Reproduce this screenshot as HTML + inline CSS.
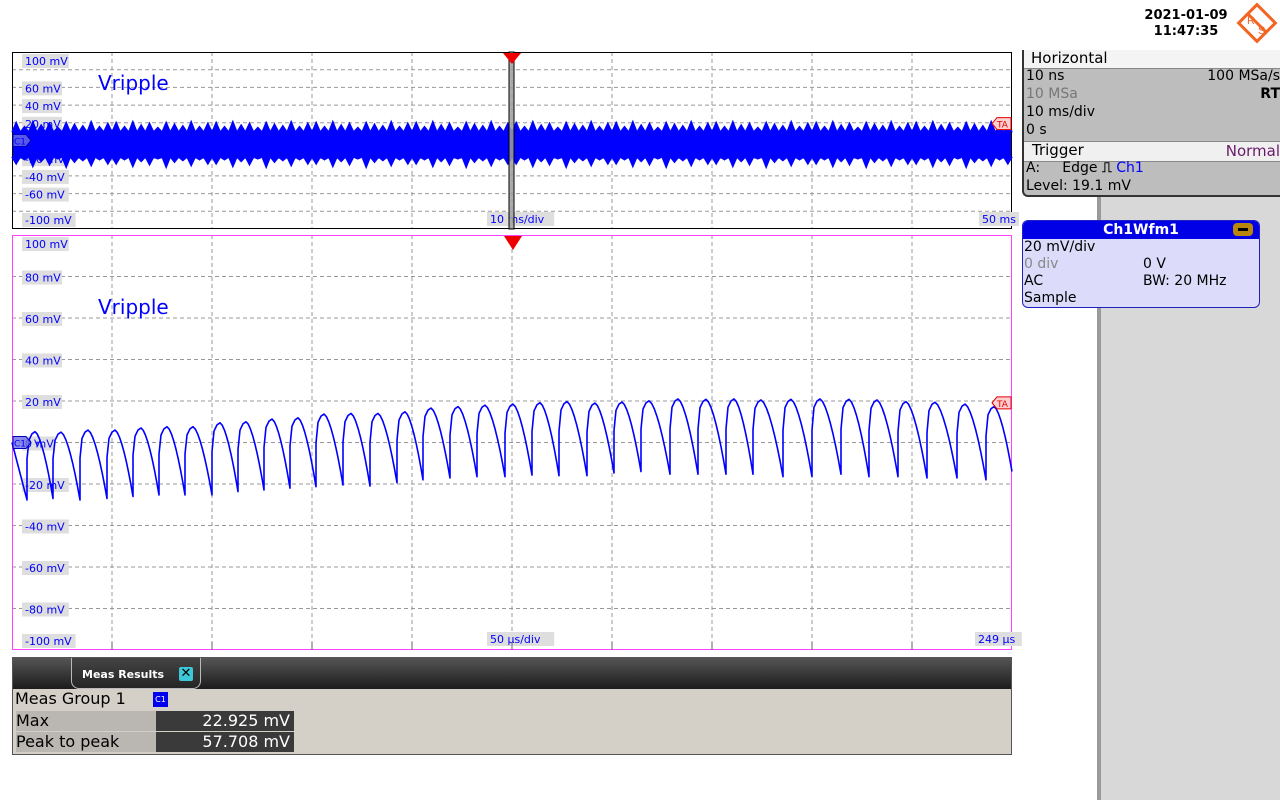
<!DOCTYPE html>
<html><head><meta charset="utf-8">
<style>
body{margin:0;width:1280px;height:800px;background:#fff;position:relative;overflow:hidden;font-family:"DejaVu Sans","Liberation Sans",sans-serif;}
.abs{position:absolute;}
.row{position:absolute;left:2px;font-size:14px;color:#000;}
</style></head><body>
<div class="abs" style="left:1100px;top:195px;width:180px;height:605px;background:#d8d8d8;"></div>
<div class="abs" style="left:1097px;top:195px;width:4px;height:605px;background:#9a9a9a;"></div>

<div class="abs" style="left:1140px;top:8px;width:92px;text-align:center;font-size:13px;font-weight:bold;line-height:16px;">2021-01-09<br>11:47:35</div>
<svg class="abs" style="left:1236px;top:2px" width="42" height="42"><rect x="8" y="8" width="26" height="26" transform="rotate(45 21 21)" fill="none" stroke="#f26522" stroke-width="3"/><line x1="12" y1="12" x2="30" y2="30" stroke="#f26522" stroke-width="3"/><text x="11" y="22" fill="#f26522" font-size="11" font-family="Liberation Sans">R</text><text x="22" y="32" fill="#f26522" font-size="11" font-family="Liberation Sans">S</text></svg>

<div class="abs" style="left:1022px;top:50px;width:262px;height:145px;background:#bdbdbd;border:2px solid #333;border-top:none;border-right:none;border-radius:0 0 0 6px;">
 <div class="abs" style="left:0;top:0;width:262px;height:18px;background:#f4f4f4;border-bottom:1px solid #888"></div>
 <div class="row" style="left:7px;top:-1px;font-size:15px;">Horizontal</div>
 <div class="row" style="top:18px">10 ns</div>
 <div class="row" style="top:18px;left:auto;right:6px">100 MSa/s</div>
 <div class="row" style="top:36px;color:#777">10 MSa</div>
 <div class="row" style="top:36px;left:auto;right:6px;font-weight:bold">RT</div>
 <div class="row" style="top:54px">10 ms/div</div>
 <div class="row" style="top:72px">0 s</div>
 <div class="abs" style="left:0;top:91px;width:262px;height:19px;background:#f0f0f0;border-top:1px solid #888;border-bottom:1px solid #888"></div>
 <div class="row" style="left:8px;top:91px;font-size:15px;">Trigger</div>
 <div class="row" style="top:92px;left:auto;right:6px;color:#6a1a6a;font-size:15px">Normal</div>
 <div class="row" style="top:110px">A:&nbsp;&nbsp;&nbsp;&nbsp;&nbsp;Edge <span style="font-weight:bold">⎍</span> <span style="color:#0000ff">Ch1</span></div>
 <div class="row" style="top:128px">Level: 19.1 mV</div>
</div>

<div class="abs" style="left:1022px;top:220px;width:236px;height:86px;background:#dcdcfa;border:1px solid #2020c0;border-radius:6px;overflow:hidden;">
 <div class="abs" style="left:0;top:0;width:236px;height:18px;background:#0000e6;color:#fff;text-align:center;font-size:14px;font-weight:bold;line-height:18px">Ch1Wfm1</div>
 <div class="abs" style="left:210px;top:2px;width:20px;height:13px;background:#b8860b;border-radius:4px;"><div style="margin:5px 5px;width:10px;height:3px;background:#000"></div></div>
 <div class="row" style="top:18px;left:1px">20 mV/div</div>
 <div class="row" style="top:35px;left:1px;color:#888">0 div</div>
 <div class="row" style="top:35px;left:120px">0 V</div>
 <div class="row" style="top:52px;left:1px">AC</div>
 <div class="row" style="top:52px;left:120px">BW: 20 MHz</div>
 <div class="row" style="top:69px;left:1px">Sample</div>
</div>

<svg class="abs" style="left:0;top:0" width="1100" height="800" id="scope"></svg>

<div class="abs" style="left:12px;top:657px;width:1000px;height:98px;background:#d4d0c8;border:1px solid #555;box-sizing:border-box;">
 <div class="abs" style="left:0;top:0;width:998px;height:31px;background:linear-gradient(#555,#1c1c1c)"></div>
 <div class="abs" style="left:58px;top:0;width:128px;height:30px;background:linear-gradient(#444,#252525);border:1px solid #bbb;border-top:none;border-radius:0 0 8px 8px;"></div>
 <div class="abs" style="left:69px;top:10px;color:#fff;font-size:11px;font-weight:bold">Meas Results</div>
 <div class="abs" style="left:166px;top:9px;width:14px;height:14px;background:#3cc8d8;color:#000;font-size:13px;font-weight:bold;line-height:14px;text-align:center;border-radius:2px">✕</div>
 <div class="abs" style="left:2px;top:31px;font-size:16px">Meas Group 1</div>
 <div class="abs" style="left:140px;top:34px;width:15px;height:15px;background:#0000f0;color:#fff;font-size:8px;text-align:center;line-height:15px">C1</div>
 <div class="abs" style="left:3px;top:53px;width:140px;height:20px;background:#bab6b2;font-size:16px;line-height:20px">Max</div>
 <div class="abs" style="left:143px;top:53px;width:138px;height:20px;background:#3a3a3a;color:#fff;font-size:16px;line-height:20px;text-align:right;box-sizing:border-box;padding-right:4px">22.925 mV</div>
 <div class="abs" style="left:3px;top:74px;width:140px;height:20px;background:#bab6b2;font-size:16px;line-height:20px">Peak to peak</div>
 <div class="abs" style="left:143px;top:74px;width:138px;height:20px;background:#3a3a3a;color:#fff;font-size:16px;line-height:20px;text-align:right;box-sizing:border-box;padding-right:4px">57.708 mV</div>
</div>

<script>
// ----- data -----
const yTickLabels = ["100 mV","80 mV","60 mV","40 mV","20 mV","0 mV","-20 mV","-40 mV","-60 mV","-80 mV","-100 mV"];
const yTickValues = [100,80,60,40,20,0,-20,-40,-60,-80,-100];
// zoom (bottom) waveform: trough times (µs), peak and trough values (mV)
const troughTimes = [7.5,20.5,34,47.5,60.5,73.5,86.5,100,113,126,139,152,165.5,179,192.5,205.5,219,232.5,246.5,260,273.5,287.5,301,314.5,329,343,357,370.5,385.5,400,414.5,428.5,443,457.5,472.5,487];
const peakValues = [5.2,5,6,6,7,7.6,7.6,9.5,10,11.3,11.9,13.7,14,14,14.8,16.6,17.3,18,18.5,19.2,19.7,19,19.5,20.1,21,20.8,21,20.5,20.8,21,20.8,20.5,19.7,19.4,18.5,17.3];
const troughValues = [-27.7,-27,-27.7,-27,-26,-25.3,-25.3,-25.3,-23.7,-22.9,-22,-21.3,-20.5,-21,-19.4,-18,-17.1,-16.5,-16.5,-15.7,-16,-16,-14.7,-14,-15.3,-15.3,-15.3,-15.3,-16.5,-16.5,-15.3,-16.5,-16.5,-17.1,-17.1,-18];
const startValue = 0, endValue = -14;
// overview (top) envelope spikes, mV, repeating acquisition pattern
const spikeHigh = [21,16,22,18,20,15,21,19,17,22,16,20];
const spikeLow = [-27,-22,-30,-24,-28,-21,-31,-25,-23,-29,-22,-27];
const coreHigh = 10, coreLow = -19;

const NS='http://www.w3.org/2000/svg';
const svg=document.getElementById('scope');
function mk(tag,attrs,parent){const e=document.createElementNS(NS,tag);for(const k in attrs)e.setAttribute(k,attrs[k]);(parent||svg).appendChild(e);return e;}
const L=12,R=1012;
const topP={y0:52,y1:229}, botP={y0:235,y1:650};
function yTop(v){return (topP.y0+topP.y1)/2 - v*(topP.y1-topP.y0)/200;}
function yBot(v){return (botP.y0+botP.y1)/2 - v*(botP.y1-botP.y0)/200;}
function xBot(t){return L + t*(R-L)/500;}
function xTop(i,n){return L + i*(R-L)/n;}

function grid(p,yf,border){
  for(let k=1;k<10;k++){
    const x=L+k*100;
    const g=mk('line',{x1:x,y1:p.y0,x2:x,y2:p.y1,stroke:'#999','stroke-dasharray':'4,3'});
    
    
  }
  yTickValues.forEach((v,i)=>{
    if(i==0||i==10)return;
    const y=yf(v);
    const g=mk('line',{x1:L,y1:y,x2:R,y2:y,stroke:'#999','stroke-dasharray':'4,3'});
    
    
  });
  const b=mk('rect',{x:L+0.5,y:p.y0+0.5,width:R-L-1,height:p.y1-p.y0-1,fill:'none',stroke:border,'stroke-width':1});
  
  
}
function labels(yf,p,isTop){
  yTickValues.forEach((v,i)=>{
    if(isTop && (v==80 || v==-80)) return;
    let y=yf(v)+4; if(i==0)y=p.y0+12; if(i==10)y=p.y1-6;
    const w=yTickLabels[i].length*6.8+6;
    mk('rect',{x:22,y:y-10,width:w,height:14,fill:'#dedede'});
    const t=mk('text',{x:25,y:y+1,fill:'#0000ff','font-size':11,'font-family':'DejaVu Sans'});
    t.textContent=yTickLabels[i];
    
    
  });
}
function timeLabel(x,y,txt,name){
  const w=txt.length*6.8+6;
  mk('rect',{x:x-3,y:y-10,width:w,height:14,fill:'#dedede'});
  const t=mk('text',{x:x,y:y+1,fill:'#0000ff','font-size':11,'font-family':'DejaVu Sans'});
  t.textContent=txt;
  
  
}
// top panel
grid(topP,yTop,'#000');
labels(yTop,topP,true);
const core=mk('rect',{x:L+1,y:yTop(coreHigh),width:R-L-2,height:yTop(coreLow)-yTop(coreHigh),fill:'#0000ff'});


let n=120, dTop='', dBotP='';
for(let i=0;i<n;i++){
  const x0=xTop(i,n), x1=xTop(i+0.5,n), x2=xTop(i+1,n);
  const hi=spikeHigh[i%spikeHigh.length], lo=spikeLow[i%spikeLow.length];
  dTop+=`M${x0},${yTop(coreHigh)} L${x1},${yTop(hi)} L${x2},${yTop(coreHigh)} Z `;
  dBotP+=`M${x0},${yTop(coreLow)} L${x1},${yTop(lo)} L${x2},${yTop(coreLow)} Z `;
}
const sp=mk('path',{d:dTop+dBotP,fill:'#0000ff',stroke:'#0000ff','stroke-width':1});


timeLabel(490,222,'10 ms/div','overview-time-scale');
timeLabel(982,222,'50 ms','overview-time-end');
// bottom panel
grid(botP,yBot,'#ff40ff');
labels(yBot,botP,false);
timeLabel(490,642,'50 µs/div','zoom-time-scale');
timeLabel(978,642,'249 µs','zoom-time-end');
for(let k=1;k<10;k++){mk('line',{x1:L+k*100,y1:botP.y1-8,x2:L+k*100,y2:botP.y1,stroke:'#666'});}
// waveform
let d=`M${L},${yBot(startValue)}`;
for(let i=0;i<troughTimes.length;i++){
  const xt=xBot(troughTimes[i]), t=troughValues[i], p=peakValues[i];
  d+=` L${xt},${yBot(t)} L${xt},${yBot(t+0.6*(p-t))}`;
  d+=` L${xt+2},${yBot(p-4)} L${xt+5},${yBot(p-1)} L${xt+8},${yBot(p)}`;
  const last = i+1>=troughTimes.length;
  const nextX = last? R : xBot(troughTimes[i+1]);
  const xs=xt+8;
  for(let s=1;s<=8;s++){
    const f=s/8; const xx=xs+(nextX-xs)*f;
    let yv;
    if(!last) yv=p-(p-troughValues[i+1])*Math.pow(f,1.6);
    else yv=p-(p-endValue)*Math.pow(f,1.6);
    d+=` L${xx},${yBot(yv)}`;
  }
}
const wf=mk('path',{d:d,fill:'none',stroke:'#0000ff','stroke-width':1.6,'stroke-linejoin':'round'});


function chMarker(y){
  const g=mk('g',{});
  
  
  mk('path',{d:`M13,${y-6} L26,${y-6} L31,${y} L26,${y+6} L13,${y+6} Z`,fill:'rgba(110,110,230,0.8)',stroke:'#0000c0'},g);
  const t=mk('text',{x:14,y:y+4,fill:'#0000ff','font-size':9,'font-family':'DejaVu Sans'},g);t.textContent='C1';
  const v=mk('text',{x:34,y:y+4,fill:'#0000ff','font-size':10,'font-family':'DejaVu Sans'},g);v.textContent='V';
}
chMarker(yTop(0)); chMarker(yBot(0));
function taMarker(y){
  const g=mk('g',{});
  
  
  mk('path',{d:`M1011,${y-6} L997,${y-6} L992,${y} L997,${y+6} L1011,${y+6} Z`,fill:'#ffd0d0',stroke:'#e00000'},g);
  const t=mk('text',{x:997,y:y+4,fill:'#e00000','font-size':9,'font-family':'DejaVu Sans'},g);t.textContent='TA';
}
taMarker(yTop(19.1)); taMarker(yBot(19.1));
const bar=mk('rect',{x:509,y:topP.y0,width:5,height:topP.y1-topP.y0,fill:'rgba(160,160,160,0.85)',stroke:'#000','stroke-width':1});


const tr1=mk('path',{d:'M503,53 L521,53 L512,64 Z',fill:'#ee0000'});


const tr2=mk('path',{d:'M504,236 L522,236 L513,250 Z',fill:'#ee0000'});


[[98,90],[98,314]].forEach(([x,y])=>{
  const t=mk('text',{x:x,y:y,fill:'#0000ff','font-size':20,'font-family':'DejaVu Sans'});
  t.textContent='Vripple';
  
  
});
</script>
</body></html>
